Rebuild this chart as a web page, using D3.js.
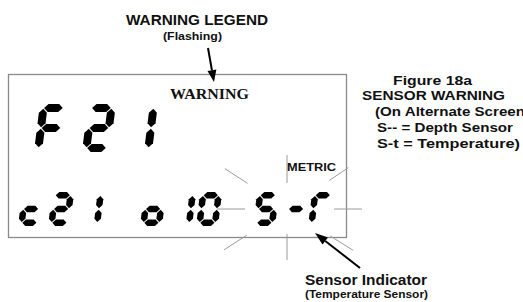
<!DOCTYPE html>
<html>
<head>
<meta charset="utf-8">
<script src="https://cdn.jsdelivr.net/npm/d3@7"></script>
<style>
  body { margin: 0; background: #fff; }
  text { font-family: "Liberation Sans", Arial, sans-serif; font-weight: bold; fill: #111; }
</style>
</head>
<body>
<div id="chart"></div>
<script>
// LCD contents
const bigChars = ["F", "2", "1"];
const smallChars = ["c", "2", "1", "o", "1", "0", "S", "-", "\u0393"];

// which segments are lit for each glyph
const segMap = {
  "F": "aefg", "2": "abged", "1": "bc", "c": "ged", "o": "gcde",
  "0": "abcdef", "S": "afgcd", "-": "g", "\u0393": "aef"
};

// flashing rays around the sensor indicator: angle (deg), inner / outer radius
const rayAngle = [0, 32, 90, 147, 180, 213, 270, 326];
const rayInner = [47, 51, 25, 48, 42, 47, 26, 51];
const rayOuter = [75, 78, 51, 75, 70, 74, 54, 74];

// texts on the right
const captionLines = ["Figure  18a", "SENSOR WARNING", "(On Alternate Screen", "S-- = Depth Sensor", "S-t  = Temperature)"];

// layout
const W = 523, H = 302;
const bigLeft = [34, 82, 124];
const smallLeft = [18, 48, 78, 140, 170, 196, 253, 283, 308];

const svg = d3.select("#chart").append("svg")
  .attr("width", W).attr("height", H);

const poly = d3.line().curve(d3.curveLinearClosed);

function segments(w, h, t) {
  const g = 0.7, s = t / 2;
  const L = s, R = w - s, T = s, M = h / 2, B = h - s;
  const hz = (x0, x1, y) => [[x0 + g, y], [x0 + g + s, y - s], [x1 - g - s, y - s], [x1 - g, y], [x1 - g - s, y + s], [x0 + g + s, y + s]];
  const vt = (x, y0, y1) => [[x, y0 + g], [x + s, y0 + g + s], [x + s, y1 - g - s], [x, y1 - g], [x - s, y1 - g - s], [x - s, y0 + g + s]];
  return {
    a: hz(L, R, T), g: hz(L, R, M), d: hz(L, R, B),
    b: vt(R, T, M), c: vt(R, M, B), f: vt(L, T, M), e: vt(L, M, B)
  };
}

function drawDigits(chars, lefts, top, w, h, t, slant) {
  const segs = segments(w, h, t);
  const k = Math.tan(slant * Math.PI / 180);
  chars.forEach((ch, i) => {
    const gd = svg.append("g")
      .attr("transform", "translate(" + (lefts[i] + k * h) + "," + top + ") skewX(" + (-slant) + ")");
    gd.selectAll("path")
      .data(segMap[ch].split(""))
      .enter().append("path")
      .attr("d", s => poly(segs[s]))
      .attr("fill", "#000");
  });
}

// LCD frame
svg.append("rect")
  .attr("x", 8.5).attr("y", 74.5)
  .attr("width", 338).attr("height", 163)
  .attr("fill", "none").attr("stroke", "#8a8a8a").attr("stroke-width", 1.3);

// rays
const cx = 287, cy = 209;
svg.selectAll("line.ray")
  .data(rayAngle)
  .enter().append("line")
  .attr("class", "ray")
  .attr("x1", (a, i) => cx + rayInner[i] * Math.cos(a * Math.PI / 180))
  .attr("y1", (a, i) => cy + rayInner[i] * Math.sin(a * Math.PI / 180))
  .attr("x2", (a, i) => cx + rayOuter[i] * Math.cos(a * Math.PI / 180))
  .attr("y2", (a, i) => cy + rayOuter[i] * Math.sin(a * Math.PI / 180))
  .attr("stroke", "#9a9a9a").attr("stroke-width", 1);

drawDigits(bigChars, bigLeft, 104, 28, 48, 8, 7);
drawDigits(smallChars, smallLeft, 192, 22, 34, 6.5, 7);

// LCD legends
svg.append("text")
  .attr("x", 170).attr("y", 99)
  .style("font-family", "'Liberation Serif', 'Times New Roman', serif")
  .style("font-size", "15px")
  .attr("textLength", 79).attr("lengthAdjust", "spacingAndGlyphs")
  .text("WARNING");

svg.append("text")
  .attr("x", 287).attr("y", 171)
  .style("font-size", "11px")
  .attr("textLength", 49).attr("lengthAdjust", "spacingAndGlyphs")
  .text("METRIC");

// top annotation
svg.append("text")
  .attr("x", 126).attr("y", 25)
  .style("font-size", "14px")
  .attr("textLength", 142).attr("lengthAdjust", "spacingAndGlyphs")
  .text("WARNING LEGEND");
svg.append("text")
  .attr("x", 163).attr("y", 40)
  .style("font-size", "11px")
  .attr("textLength", 59).attr("lengthAdjust", "spacingAndGlyphs")
  .text("(Flashing)");

function arrow(x1, y1, x2, y2, len, wid) {
  const ang = Math.atan2(y2 - y1, x2 - x1);
  const bx = x2 - len * Math.cos(ang), by = y2 - len * Math.sin(ang);
  const px = Math.sin(ang) * wid / 2, py = -Math.cos(ang) * wid / 2;
  svg.append("line")
    .attr("x1", x1).attr("y1", y1).attr("x2", bx).attr("y2", by)
    .attr("stroke", "#000").attr("stroke-width", 2);
  svg.append("path")
    .attr("d", poly([[x2, y2], [bx + px, by + py], [bx - px, by - py]]))
    .attr("fill", "#000");
}
arrow(208, 48, 214, 82, 12, 9);
arrow(360, 268, 315, 233, 13, 9);

// bottom annotation
svg.append("text")
  .attr("x", 305).attr("y", 285)
  .style("font-size", "14.5px")
  .attr("textLength", 122).attr("lengthAdjust", "spacingAndGlyphs")
  .text("Sensor Indicator");
svg.append("text")
  .attr("x", 305).attr("y", 298)
  .style("font-size", "11px")
  .attr("textLength", 123).attr("lengthAdjust", "spacingAndGlyphs")
  .text("(Temperature Sensor)");

// caption on the right
const capX = [393, 362, 375, 377, 377];
const capY = [85, 100, 116, 132, 148];
const capLen = [79, 143, 150, 136, 143];
svg.selectAll("text.cap")
  .data(captionLines)
  .enter().append("text")
  .attr("class", "cap")
  .attr("x", (d, i) => capX[i])
  .attr("y", (d, i) => capY[i])
  .style("font-size", "13.5px")
  .attr("textLength", (d, i) => capLen[i]).attr("lengthAdjust", "spacingAndGlyphs")
  .text(d => d);
</script>
</body>
</html>
